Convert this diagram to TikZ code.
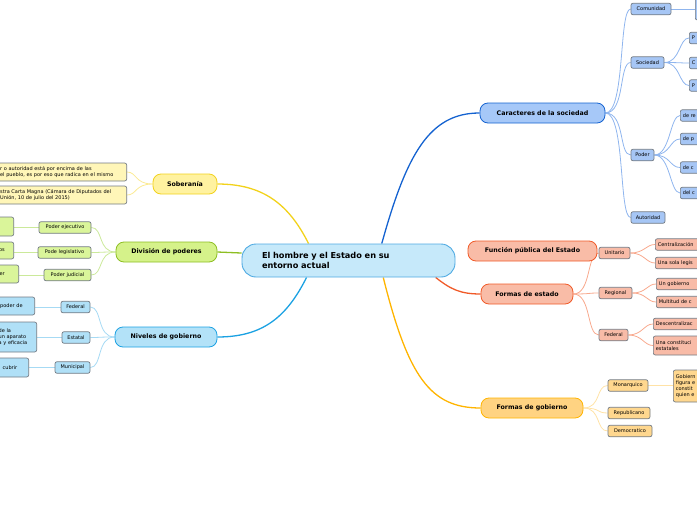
\documentclass[tikz,border=0pt]{standalone}
\usepackage{fontspec}
\setmainfont{DejaVu Sans}
\usetikzlibrary{backgrounds}

\definecolor{rootfill}{HTML}{C6E9FA}
\definecolor{rootline}{HTML}{4FAAE2}
\definecolor{sobfill}{HTML}{FFF2A0}
\definecolor{sobline}{HTML}{F2D21B}
\definecolor{sobleaf}{HTML}{FFF6B8}
\definecolor{sobtwig}{HTML}{FBEA94}
\definecolor{divfill}{HTML}{D5F28A}
\definecolor{divline}{HTML}{8DBE22}
\definecolor{divleaf}{HTML}{DAF59A}
\definecolor{divtwig}{HTML}{CBE99A}
\definecolor{nivfill}{HTML}{B3E2F8}
\definecolor{nivline}{HTML}{1BA1E2}
\definecolor{nivleaf}{HTML}{B0E0F7}
\definecolor{nivtwig}{HTML}{A6DAF4}
\definecolor{carfill}{HTML}{A6C8F8}
\definecolor{carline}{HTML}{1462D0}
\definecolor{carleaf}{HTML}{A6C6F5}
\definecolor{cartwig}{HTML}{8FB5EE}
\definecolor{estfill}{HTML}{F9BCA7}
\definecolor{estline}{HTML}{F05A28}
\definecolor{estleaf}{HTML}{F8BBA7}
\definecolor{esttwig}{HTML}{F8A98E}
\definecolor{gobfill}{HTML}{FFD382}
\definecolor{gobline}{HTML}{FFB400}
\definecolor{gobleaf}{HTML}{FFD78E}
\definecolor{gobtwig}{HTML}{FFE2A6}
\definecolor{leafline}{HTML}{737B84}

\begin{document}
\begin{tikzpicture}[line cap=round,line join=round,x=1pt,y=-1pt,
  every node/.style={font=\fontsize{5}{6}\selectfont},
  root/.style={draw=rootline,fill=rootfill,line width=0.9pt,rounded corners=14pt,minimum height=33pt,text width=173pt,inner xsep=20pt,align=left,font=\bfseries\fontsize{8.2}{10.5}\selectfont},
  topic/.style={line width=0.8pt,rounded corners=8pt,minimum height=20pt,inner sep=0pt,font=\bfseries\fontsize{6.3}{7}\selectfont},
  leaf/.style={draw=leafline,line width=0.7pt,rounded corners=2pt,inner xsep=2.5pt,inner ysep=0pt,minimum height=11.5pt},
  cutr/.style={leaf,anchor=west,text width=60pt,align=left},
  cutl/.style={leaf,anchor=east,align=left},
  branch/.style={line width=1.3pt},
  twig/.style={line width=0.8pt}]
\useasboundingbox (0,0) rectangle (697,520);
\clip (0,0) rectangle (697,520);

% centre
\node[root] (root) at (348.5,260.5) {El hombre y el Estado en su\\entorno actual};

% main topics
\node[topic,draw=sobline,fill=sobfill,minimum width=64pt] (sob) at (185,184) {Soberanía};
\node[topic,draw=divline,fill=divfill,minimum width=101pt] (div) at (166.5,252) {División de poderes};
\node[topic,draw=nivline,fill=nivfill,minimum width=102pt] (niv) at (166,337) {Niveles de gobierno};
\node[topic,draw=carline,fill=carfill,minimum width=125pt] (car) at (542.5,113) {Caracteres de la sociedad};
\node[topic,draw=estline,fill=estfill,minimum width=129pt] (fun) at (532.5,251) {Función pública del Estado};
\node[topic,draw=estline,fill=estfill,minimum width=92pt] (est) at (527,294) {Formas de estado};
\node[topic,draw=gobline,fill=gobfill,minimum width=102pt] (gob) at (532,408) {Formas de gobierno};

% caracteres de la sociedad
\node[leaf,fill=carleaf,minimum width=40pt] (comu) at (651,9) {Comunidad};
\node[leaf,fill=carleaf,minimum width=33pt] (soci) at (647.5,62.5) {Sociedad};
\node[leaf,fill=carleaf,minimum width=23pt] (pode) at (642.5,155) {Poder};
\node[leaf,fill=carleaf,minimum width=34pt] (auto) at (648,217.5) {Autoridad};
\node[cutr,fill=carleaf,minimum height=30pt] (comu1) at (695,5) {};
\node[cutr,fill=carleaf] (soci1) at (689,38) {P};
\node[cutr,fill=carleaf] (soci2) at (689,63) {C};
\node[cutr,fill=carleaf] (soci3) at (689,85.5) {P};
\node[cutr,fill=carleaf] (pode1) at (680,115.5) {de re};
\node[cutr,fill=carleaf] (pode2) at (680,139) {de p};
\node[cutr,fill=carleaf] (pode3) at (680,167.5) {de c};
\node[cutr,fill=carleaf] (pode4) at (680,193) {del c};

% formas de estado
\node[leaf,fill=estleaf,minimum width=31pt] (unit) at (614.5,253) {Unitario};
\node[leaf,fill=estleaf,minimum width=33pt] (regi) at (615.5,293) {Regional};
\node[leaf,fill=estleaf,minimum width=29pt] (fede) at (613.5,335) {Federal};
\node[cutr,fill=estleaf] (unit1) at (655,244.5) {Centralización};
\node[cutr,fill=estleaf] (unit2) at (655,263) {Una sola legis};
\node[cutr,fill=estleaf] (regi1) at (656,284) {Un gobierno};
\node[cutr,fill=estleaf] (regi2) at (656,302) {Multitud de c};
\node[cutr,fill=estleaf] (fede1) at (653,324) {Descentralizac};
\node[cutr,fill=estleaf,minimum height=19pt] (fede2) at (653,345.5) {Una constituci\\estatales};

% formas de gobierno
\node[leaf,fill=gobleaf,minimum width=40pt] (mona) at (628,385.5) {Monarquico};
\node[leaf,fill=gobleaf,minimum width=42pt] (repu) at (629,413) {Republicano};
\node[leaf,fill=gobleaf,minimum width=44pt] (demo) at (630,431) {Democratico};
\node[cutr,fill=gobleaf,minimum height=32pt] (mona1) at (673,386) {Gobiern\\figura e\\constit\\quien e};

% soberania
\node[cutl,fill=sobleaf,text width=124pt,minimum height=18pt] (sob1) at (127,172) {r o autoridad está por encima de las\\el pueblo, es por eso que radica en el mismo};
\node[cutl,fill=sobleaf,text width=124pt,minimum height=18pt] (sob2) at (127,195) {stra Carta Magna (Cámara de Diputados del\\Unión, 10 de julio del 2015)};

% division de poderes
\node[leaf,fill=divleaf,minimum width=52pt] (ejec) at (65,227.5) {Poder ejecutivo};
\node[leaf,fill=divleaf,minimum width=53pt] (legi) at (64.5,252.5) {Pode legislativo};
\node[leaf,fill=divleaf,minimum width=47pt] (judi) at (67.5,275) {Poder judicial};
\node[cutl,fill=divleaf,text width=20pt,minimum height=19pt] (ejec1) at (14,226.5) {};
\node[cutl,fill=divleaf,text width=12pt,minimum height=17pt] (legi1) at (14,250.5) {os};
\node[cutl,fill=divleaf,text width=16.5pt,minimum height=18pt] (judi1) at (19,274) {er};

% niveles de gobierno
\node[leaf,fill=nivleaf,minimum width=29pt] (nfed) at (75.5,307) {Federal};
\node[leaf,fill=nivleaf,minimum width=28pt] (nest) at (76,337.5) {Estatal};
\node[leaf,fill=nivleaf,minimum width=35pt] (nmun) at (72.5,367.5) {Municipal};
\node[cutl,fill=nivleaf,text width=32pt,minimum height=18pt] (nfed1) at (35,306) {poder de};
\node[cutl,fill=nivleaf,text width=35.5pt,minimum height=30pt] (nest1) at (37,337) {de la\\un aparato\\a y eficacia};
\node[cutl,fill=nivleaf,text width=30pt,minimum height=19pt] (nmun1) at (29,367.5) {\hspace*{6.5pt}cubrir};

\begin{pgfonlayer}{background}
\draw[branch,sobline] (root.157) .. controls +(-20,-40) and +(45,0) .. (sob.east);
\draw[branch,divline] (root.176) .. controls +(-12,0) and +(12,0) .. (div.east);
\draw[branch,nivline] (root.202) .. controls +(-20,40) and +(45,0) .. (niv.east);
\draw[branch,carline] (root.27) .. controls +(25,-90) and +(-50,0) .. (car.west);
\draw[branch,estline] (root.-11) .. controls +(15,12) and +(-20,0) .. (est.west);
\draw[branch,gobline] (root.-26) .. controls +(25,100) and +(-50,0) .. (gob.west);

\foreach \c in {comu,soci,pode,auto}
  \draw[twig,cartwig] (car.east) .. controls +(20,0) and +(-12,0) .. (\c.west);
\draw[twig,cartwig] (comu.east) -- (comu.east -| comu1.west);
\foreach \c in {soci1,soci2,soci3}
  \draw[twig,cartwig] (soci.east) .. controls +(16,0) and +(-10,0) .. (\c.west);
\foreach \c in {pode1,pode2,pode3,pode4}
  \draw[twig,cartwig] (pode.east) .. controls +(16,0) and +(-10,0) .. (\c.west);

\foreach \c in {unit,regi,fede}
  \draw[twig,esttwig] (est.east) .. controls +(18,0) and +(-12,0) .. (\c.west);
\foreach \p/\c in {unit/unit1,unit/unit2,regi/regi1,regi/regi2,fede/fede1,fede/fede2}
  \draw[twig,esttwig] (\p.east) .. controls +(14,0) and +(-9,0) .. (\c.west);

\foreach \c in {mona,repu,demo}
  \draw[twig,gobtwig] (gob.east) .. controls +(18,0) and +(-12,0) .. (\c.west);
\draw[twig,gobtwig] (mona.east) -- (mona.east -| mona1.west);

\foreach \c in {sob1,sob2}
  \draw[twig,sobtwig] (sob.west) .. controls +(-18,0) and +(10,0) .. (\c.east);
\foreach \c in {ejec,legi,judi}
  \draw[twig,divtwig] (div.west) .. controls +(-18,0) and +(12,0) .. (\c.east);
\foreach \p/\c in {ejec/ejec1,legi/legi1,judi/judi1}
  \draw[twig,divtwig] (\p.west) -- (\p.west -| \c.east);
\foreach \c in {nfed,nest,nmun}
  \draw[twig,nivtwig] (niv.west) .. controls +(-18,0) and +(12,0) .. (\c.east);
\foreach \p/\c in {nfed/nfed1,nest/nest1,nmun/nmun1}
  \draw[twig,nivtwig] (\p.west) -- (\p.west -| \c.east);
\end{pgfonlayer}
\end{tikzpicture}
\end{document}
